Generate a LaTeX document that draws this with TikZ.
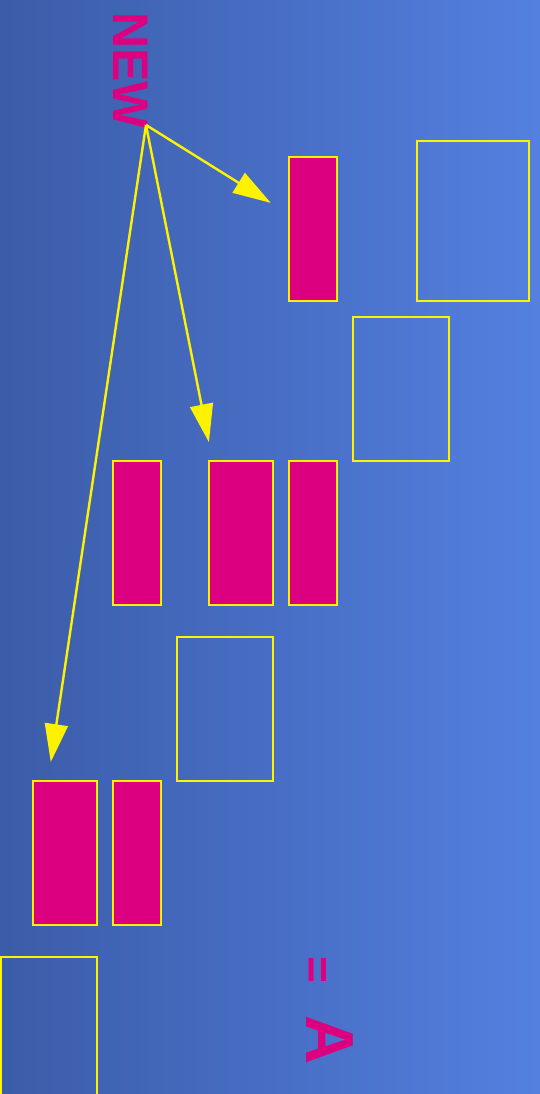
\documentclass[tikz,border=0pt]{standalone}
\usepackage{fontspec}
\setmainfont{Liberation Sans}
\usetikzlibrary{arrows.meta}

\definecolor{bgleft}{RGB}{59,92,168}
\definecolor{bgright}{RGB}{84,128,224}
\definecolor{newpink}{RGB}{220,0,128}

\begin{document}
\begin{tikzpicture}[
    x=1pt, y=-1pt, % one unit per pixel, y running down
    box/.style={draw=yellow, line width=2.4pt, inner sep=0pt,
     minimum width=#1, minimum height=144pt}, % Style for empty boxes
    fullbox/.style={box=#1, fill=newpink}, % Style for filled boxes
    newarrow/.style={-{Triangle[length=38pt, width=23pt]}, yellow,
     line width=2.4pt}, % Style for the arrows from NEW
    bigtext/.style={text=newpink, font=\bfseries, rotate=-90,
     anchor=base west, inner sep=0pt} % Style for turned texts
]

    % Background
    \clip (0,0) rectangle (540,1094);
    \shade[left color=bgleft, right color=bgright] (0,0) rectangle (540,1094);

    % Top row
    \node[fullbox=48pt] (b1) at (313,229) {};
    \node[box, minimum width=112pt, minimum height=160pt] (b2) at (473,221) {};
    \node[box=96pt] (b3) at (401,389) {};

    % Middle row
    \node[fullbox=48pt] (b4) at (137,533) {};
    \node[fullbox=64pt] (b5) at (241,533) {};
    \node[fullbox=48pt] (b6) at (313,533) {};
    \node[box=96pt] (b7) at (225,709) {};

    % Bottom row
    \node[fullbox=64pt] (b8) at (65,853) {};
    \node[fullbox=48pt] (b9) at (137,853) {};
    \node[box=96pt] (b10) at (49,1029) {};

    % Texts
    \node[bigtext] (new) at (113,12) {\fontsize{50}{50}\selectfont NEW};
    \node[bigtext] (eqa) at (306,956)
     {\raisebox{-4pt}{\fontsize{46}{46}\selectfont =}\hspace{32pt}\fontsize{68}{68}\selectfont A};

    % Arrows
    \coordinate (fork) at (146,125);
    \draw[newarrow, shorten >=20pt] (fork) -- ([yshift=15.5pt]b1.west);
    \draw[newarrow, shorten >=18pt] (fork) -- ([xshift=4.6pt]b5.north west);
    \draw[newarrow, shorten >=18pt] (fork) -- ([xshift=16.3pt]b8.north west);

\end{tikzpicture}
\end{document}
